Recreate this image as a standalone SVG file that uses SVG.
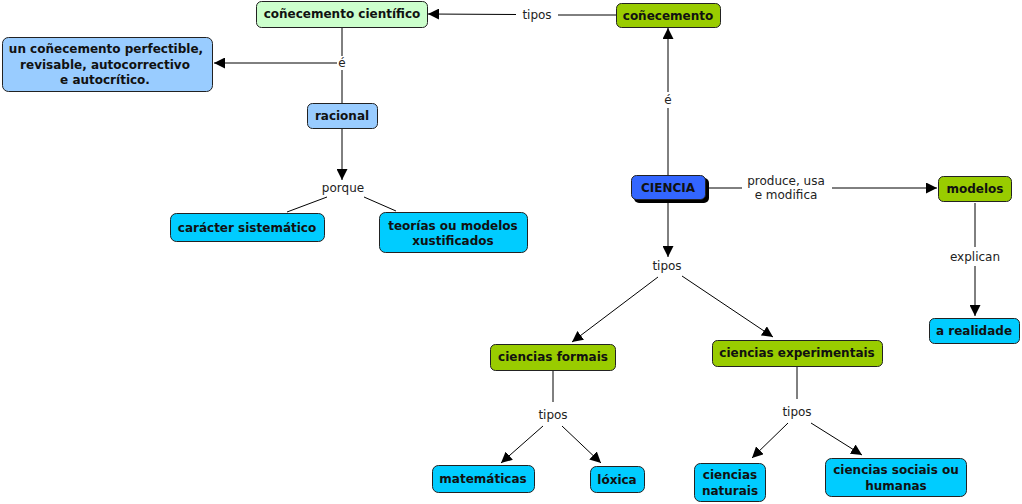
<svg xmlns="http://www.w3.org/2000/svg" width="1022" height="504" viewBox="0 0 1022 504">
<defs>
<marker id="ah" viewBox="0 0 10 10" refX="10" refY="5" markerWidth="11" markerHeight="11" markerUnits="userSpaceOnUse" orient="auto">
<path d="M0,0 L10,5 L0,10 z" fill="#000"/>
</marker>
<style>
.n{stroke:#222;stroke-width:1}
.t{font-family:"DejaVu Sans",Verdana,sans-serif;font-weight:bold;font-size:12px;fill:#111;text-anchor:middle}
.l{font-family:"DejaVu Sans",Verdana,sans-serif;font-size:12px;fill:#222;text-anchor:middle}
.c{stroke:#000;stroke-width:1;fill:none}
.a{marker-end:url(#ah)}
.lg{fill:#ccffcc}.g{fill:#99cc00}.lb{fill:#99ccff}.cy{fill:#00ccff}.b{fill:#3366ff}
</style>
</defs>
<rect width="1022" height="504" fill="#fff"/>
<g id="connectors">
<line class="c" x1="616" y1="15" x2="558" y2="15"/>
<line class="c a" x1="516" y1="14.5" x2="428" y2="14"/>
<line class="c" x1="342" y1="28" x2="342" y2="56"/>
<line class="c" x1="342" y1="70" x2="342" y2="103"/>
<line class="c a" x1="337" y1="63" x2="214" y2="63"/>
<line class="c a" x1="342" y1="128" x2="342" y2="180"/>
<line class="c" x1="327" y1="197" x2="287" y2="212"/>
<line class="c" x1="364" y1="197" x2="396" y2="211"/>
<line class="c" x1="668" y1="175" x2="668" y2="108"/>
<line class="c a" x1="668" y1="92" x2="668" y2="28"/>
<line class="c" x1="708" y1="188" x2="742" y2="188"/>
<line class="c a" x1="832" y1="188" x2="937" y2="188"/>
<line class="c" x1="975" y1="203" x2="975" y2="247"/>
<line class="c a" x1="975" y1="266" x2="975" y2="316"/>
<line class="c a" x1="668" y1="203" x2="668" y2="257"/>
<line class="c a" x1="658" y1="277" x2="572" y2="342"/>
<line class="c a" x1="682" y1="276" x2="773" y2="337"/>
<line class="c" x1="553" y1="371" x2="553" y2="402"/>
<line class="c a" x1="543" y1="426" x2="501" y2="463"/>
<line class="c a" x1="562" y1="426" x2="601" y2="463"/>
<line class="c" x1="797" y1="367" x2="797" y2="399"/>
<line class="c a" x1="788" y1="423" x2="752" y2="458"/>
<line class="c a" x1="811" y1="423" x2="862" y2="455"/>
<text class="l" x="537" y="19">tipos</text>
<text class="l" x="342" y="67">é</text>
<text class="l" x="343" y="192">porque</text>
<text class="l" x="668" y="104">é</text>
<text class="l" x="786" y="185">produce, usa</text>
<text class="l" x="786" y="199">e modifica</text>
<text class="l" x="975" y="261">explican</text>
<text class="l" x="667" y="270">tipos</text>
<text class="l" x="553" y="419">tipos</text>
<text class="l" x="797" y="416">tipos</text>
</g>
<g id="n-conecemento-cientifico"><rect class="n lg" x="256.5" y="1.5" width="171" height="26" rx="5"/><text class="t" x="342" y="18">coñecemento científico</text></g>
<g id="n-conecemento"><rect class="n g" x="616.5" y="3.5" width="104" height="24" rx="5"/><text class="t" x="668" y="20">coñecemento</text></g>
<g id="n-perfectible"><rect class="n lb" x="2.5" y="37.5" width="210" height="54" rx="6"/><text class="t" x="106" y="53">un coñecemento perfectible,</text><text class="t" x="105" y="69">revisable, autocorrectivo</text><text class="t" x="105" y="84">e autocrítico.</text></g>
<g id="n-racional"><rect class="n lb" x="307.5" y="103.5" width="70" height="25" rx="5"/><text class="t" x="342" y="120">racional</text></g>
<g id="n-caracter"><rect class="n cy" x="170.5" y="213.5" width="154" height="28" rx="6"/><text class="t" x="247" y="232">carácter sistemático</text></g>
<g id="n-teorias"><rect class="n cy" x="379.5" y="212.5" width="148" height="40" rx="6"/><text class="t" x="453" y="230">teorías ou modelos</text><text class="t" x="453" y="245">xustificados</text></g>
<g id="n-ciencia"><rect x="634" y="178" width="75" height="25" rx="5" fill="#000"/><rect class="n b" x="631.5" y="175.5" width="74" height="24" rx="5"/><text class="t" x="668" y="192">CIENCIA</text></g>
<g id="n-modelos"><rect class="n g" x="938.5" y="176.5" width="73" height="25" rx="5"/><text class="t" x="975" y="193">modelos</text></g>
<g id="n-realidade"><rect class="n cy" x="929.5" y="318.5" width="90" height="25" rx="5"/><text class="t" x="974" y="335">a realidade</text></g>
<g id="n-formais"><rect class="n g" x="490.5" y="344.5" width="125" height="26" rx="5"/><text class="t" x="553" y="361">ciencias formais</text></g>
<g id="n-experimentais"><rect class="n g" x="712.5" y="340.5" width="170" height="26" rx="5"/><text class="t" x="797" y="357">ciencias experimentais</text></g>
<g id="n-matematicas"><rect class="n cy" x="432.5" y="465.5" width="102" height="27" rx="6"/><text class="t" x="483" y="483">matemáticas</text></g>
<g id="n-loxica"><rect class="n cy" x="590.5" y="466.5" width="54" height="26" rx="6"/><text class="t" x="617" y="484">lóxica</text></g>
<g id="n-naturais"><rect class="n cy" x="694.5" y="463.5" width="71" height="38" rx="6"/><text class="t" x="730" y="479">ciencias</text><text class="t" x="730" y="495">naturais</text></g>
<g id="n-sociais"><rect class="n cy" x="825.5" y="458.5" width="141" height="38" rx="6"/><text class="t" x="896" y="474">ciencias sociais ou</text><text class="t" x="896" y="490">humanas</text></g>
</svg>
